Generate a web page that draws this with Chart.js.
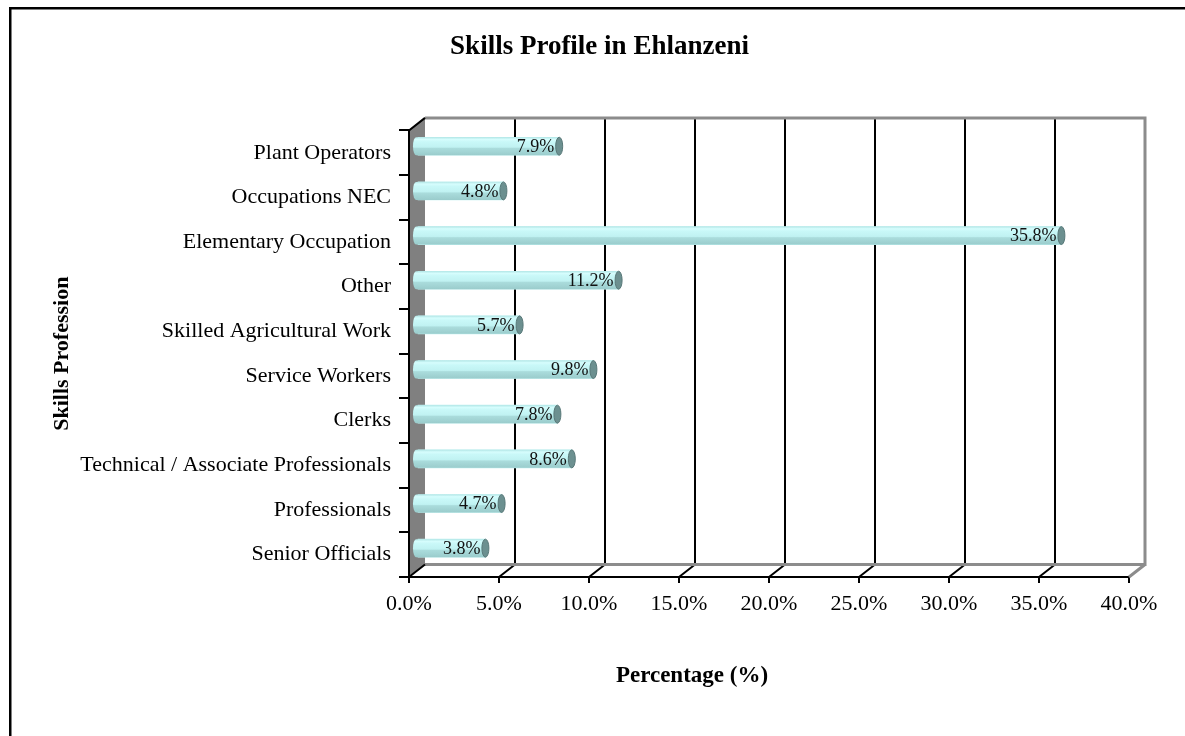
<!DOCTYPE html>
<html>
<head>
<meta charset="utf-8">
<script src="https://cdn.jsdelivr.net/npm/chart.js@4.4.0/dist/chart.umd.min.js"></script>
<style>
  html, body { margin: 0; padding: 0; background: #fff; }
  #wrap { width: 1185px; height: 736px; }
</style>
</head>
<body>
<div id="wrap"><canvas id="skills" width="1185" height="736"></canvas></div>
<script>
// data, top to bottom as shown
const categories = [
  "Plant Operators",
  "Occupations NEC",
  "Elementary Occupation",
  "Other",
  "Skilled Agricultural Work",
  "Service Workers",
  "Clerks",
  "Technical / Associate Professionals",
  "Professionals",
  "Senior Officials",
];
const shares = [7.9, 4.8, 35.8, 11.2, 5.7, 9.8, 7.8, 8.6, 4.7, 3.8];
const axisMin = 0;
const axisMax = 40;
const axisStep = 5;
const xTitle = "Percentage (%)";

const FONT = "'Liberation Serif', 'Times New Roman', serif";
const BACK = { dx: 16, dy: -12.5 }; // back wall offset
const MID = { dx: 8, dy: -6.5 };    // bars sit half way in

// fake 3d walls, floor and back grid
const frame3d = {
  id: "frame3d",
  beforeDatasetsDraw(chart) {
    const { ctx, chartArea: a, scales: { x } } = chart;
    ctx.save();

    // left wall
    ctx.fillStyle = "#808080";
    ctx.beginPath();
    ctx.moveTo(a.left, a.top);
    ctx.lineTo(a.left + BACK.dx, a.top + BACK.dy);
    ctx.lineTo(a.left + BACK.dx, a.bottom + BACK.dy);
    ctx.lineTo(a.left, a.bottom);
    ctx.closePath();
    ctx.fill();

    // back grid lines
    x.ticks.forEach((t) => {
      if (t.value === axisMin || t.value === axisMax) return;
      const px = x.getPixelForValue(t.value);
      ctx.strokeStyle = "#000";
      ctx.lineWidth = 2;
      ctx.beginPath();
      ctx.moveTo(px + BACK.dx, a.top + BACK.dy);
      ctx.lineTo(px + BACK.dx, a.bottom + BACK.dy);
      ctx.moveTo(px, a.bottom);
      ctx.lineTo(px + BACK.dx, a.bottom + BACK.dy);
      ctx.stroke();
    });

    // gray outline of back wall and floor
    const rx = x.getPixelForValue(axisMax);
    ctx.strokeStyle = "#8c8c8c";
    ctx.lineWidth = 3;
    ctx.beginPath();
    ctx.moveTo(a.left + BACK.dx, a.top + BACK.dy);
    ctx.lineTo(rx + BACK.dx, a.top + BACK.dy);
    ctx.lineTo(rx + BACK.dx, a.bottom + BACK.dy);
    ctx.lineTo(a.left + BACK.dx, a.bottom + BACK.dy);
    ctx.moveTo(rx + BACK.dx, a.bottom + BACK.dy);
    ctx.lineTo(rx, a.bottom);
    ctx.stroke();

    // front edges of the wall
    ctx.strokeStyle = "#000";
    ctx.lineWidth = 2;
    ctx.beginPath();
    ctx.moveTo(a.left + BACK.dx, a.top + BACK.dy);
    ctx.lineTo(a.left, a.top);
    ctx.lineTo(a.left, a.bottom);
    ctx.lineTo(a.left + BACK.dx, a.bottom + BACK.dy);
    ctx.stroke();

    ctx.restore();
    // bars drawn half way into the depth
    ctx.save();
    ctx.translate(MID.dx, MID.dy);
  },
  afterDatasetsDraw(chart) {
    const { ctx } = chart;
    ctx.restore();
    ctx.save();
    const meta = chart.getDatasetMeta(0);
    meta.data.forEach((bar, i) => {
      const x0 = bar.base + MID.dx - 5;
      const x1 = bar.x + MID.dx;
      const cy = bar.y + MID.dy;
      const h = bar.height;
      const top = cy - h / 2;

      const g = ctx.createLinearGradient(0, top, 0, top + h);
      g.addColorStop(0, "#b2e6e6");
      g.addColorStop(0.12, "#d6fdfd");
      g.addColorStop(0.25, "#c9f8f8");
      g.addColorStop(0.55, "#c0f2f2");
      g.addColorStop(0.62, "#aadcdc");
      g.addColorStop(1, "#9acccc");
      ctx.fillStyle = g;
      ctx.beginPath();
      ctx.moveTo(x1, top);
      ctx.lineTo(x0 + 3, top);
      ctx.ellipse(x0 + 3, cy, 3, h / 2, 0, -Math.PI / 2, Math.PI / 2, true);
      ctx.lineTo(x1, top + h);
      ctx.closePath();
      ctx.fill();

      // end cap
      ctx.fillStyle = "#6c9090";
      ctx.strokeStyle = "#587878";
      ctx.lineWidth = 1;
      ctx.beginPath();
      ctx.ellipse(x1, cy, 3.5, h / 2, 0, 0, Math.PI * 2);
      ctx.fill();
      ctx.stroke();

      // value label
      ctx.fillStyle = "#111";
      ctx.font = "18px " + FONT;
      ctx.textAlign = "right";
      ctx.textBaseline = "middle";
      ctx.fillText(shares[i].toFixed(1) + "%", x1 - 5, cy + 1);
    });
    ctx.restore();
  },
  afterDraw(chart) {
    const { ctx, chartArea: a } = chart;
    ctx.save();
    // x axis title sits left of the axis centre in the original
    ctx.fillStyle = "#000";
    ctx.font = "bold 23px " + FONT;
    ctx.textAlign = "center";
    ctx.textBaseline = "middle";
    ctx.fillText(xTitle, a.left + 283, 676);
    // outer frame
    ctx.fillRect(9, 7, 1176, 2.5);
    ctx.fillRect(9, 7, 2.5, 729);
    ctx.restore();
  },
};

const skillsChart = new Chart(document.getElementById("skills"), {
  type: "bar",
  data: {
    labels: categories,
    datasets: [
      {
        data: shares,
        backgroundColor: "#bdefef",
        borderWidth: 0,
        barThickness: 18,
        clip: false,
      },
    ],
  },
  options: {
    indexAxis: "y",
    responsive: false,
    animation: false,
    layout: { padding: { left: 70, right: 56, top: 0, bottom: 0 } },
    plugins: {
      legend: { display: false },
      tooltip: { enabled: false },
      title: {
        display: true,
        text: "Skills Profile in Ehlanzeni",
        color: "#000",
        font: { family: FONT, size: 27, weight: "bold" },
        padding: { top: 31, bottom: 67 },
      },
    },
    scales: {
      x: {
        min: axisMin,
        max: axisMax,
        ticks: {
          stepSize: axisStep,
          callback: (v) => v.toFixed(1) + "%",
          color: "#000",
          font: { family: FONT, size: 22 },
          padding: 8,
          maxRotation: 0,
        },
        grid: { drawOnChartArea: false, color: "#000", lineWidth: 2, tickLength: 6 },
        border: { color: "#000", width: 2 },
        afterFit: (s) => { s.height = 159; },
      },
      y: {
        ticks: { color: "#000", font: { family: FONT, size: 22 }, padding: 8 },
        grid: { drawOnChartArea: false, color: "#000", lineWidth: 2, tickLength: 10, offset: true },
        border: { color: "#000", width: 2 },
        title: {
          display: true,
          text: "Skills Profession",
          color: "#000",
          font: { family: FONT, size: 22, weight: "bold" },
          padding: { top: -21, bottom: 0 },
        },
        afterFit: (s) => { s.width = 339; },
      },
    },
  },
  plugins: [frame3d],
});
</script>
</body>
</html>
